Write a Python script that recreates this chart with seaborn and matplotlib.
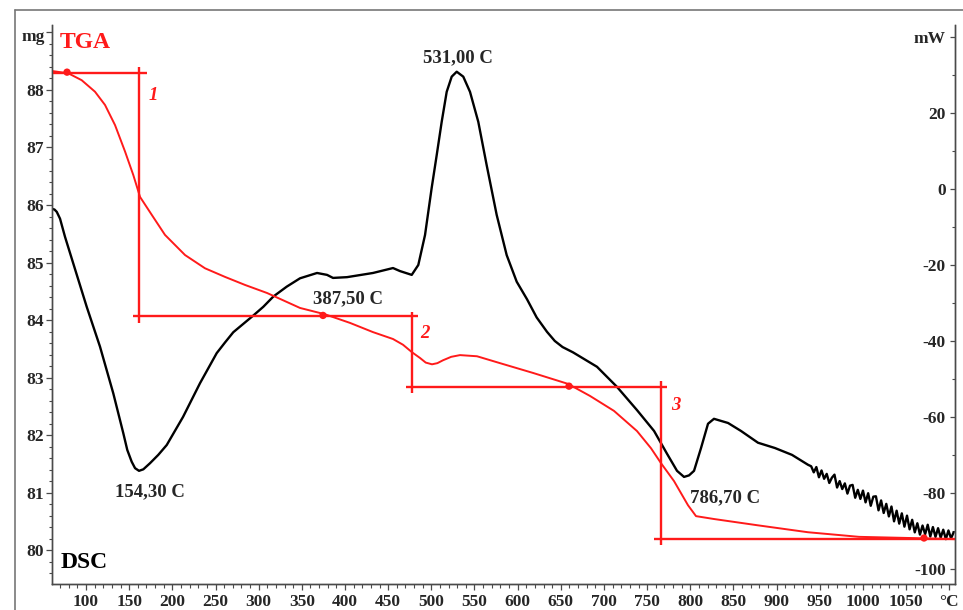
import matplotlib
matplotlib.use("Agg")
import matplotlib.pyplot as plt
from matplotlib.ticker import FixedLocator, MultipleLocator
from matplotlib.lines import Line2D
import seaborn as sns

# TGA curve: mass (mg) vs temperature (°C)
tga_temp = [60.6, 79.5, 95.0, 110.4, 122.0, 133.6, 145.2, 154.8, 162.6, 176.1,
            191.5, 214.7, 237.8, 261.0, 284.2, 309.7, 347.9, 376.8, 405.8, 432.4,
            455.6, 467.2, 477.6, 486.9, 493.5, 500.8, 507.0, 513.5, 523.0, 533.2,
            552.9, 579.6, 617.8, 658.3, 683.8, 711.6, 738.2, 754.5, 766.1, 781.1,
            797.3, 806.6, 827.4, 878.4, 936.3, 995.4, 1053.3, 1106.6]
tga_mass = [88.33, 88.29, 88.17, 87.97, 87.74, 87.39, 86.93, 86.52, 86.14, 85.83,
            85.48, 85.13, 84.90, 84.75, 84.61, 84.47, 84.21, 84.10, 83.95, 83.79,
            83.67, 83.57, 83.44, 83.34, 83.26, 83.23, 83.25, 83.30, 83.36, 83.39,
            83.37, 83.25, 83.08, 82.89, 82.68, 82.42, 82.07, 81.77, 81.51, 81.20,
            80.78, 80.59, 80.54, 80.43, 80.31, 80.23, 80.21, 80.19]

# DSC curve: heat flow (mW) vs temperature (°C)
dsc_temp = [60.6, 63.5, 66.1, 69.9, 75.7, 85.3, 100.8, 116.2, 131.6, 143.2,
            147.8, 152.9, 156.8, 161.4, 166.4, 174.1, 183.7, 193.5, 212.4, 222.4,
            232.1, 241.7, 251.4, 261.0, 270.6, 282.2, 293.8, 305.4, 317.0, 332.5,
            347.9, 367.6, 379.2, 386.1, 402.3, 432.4, 455.6, 463.7, 477.3, 484.9,
            492.7, 500.4, 506.2, 512.0, 517.8, 523.6, 529.4, 537.0, 544.8, 554.4,
            564.1, 575.7, 587.3, 598.9, 610.8, 622.0, 634.0, 643.0, 652.0, 664.1,
            691.9, 715.1, 738.2, 758.0, 773.0, 784.6, 792.7, 798.5, 804.3, 812.4,
            820.5, 827.4, 843.7, 858.7, 878.4, 898.1, 917.8, 936.3,
            940, 943, 946, 949, 952, 955, 958, 961, 964, 967,
            970, 973, 976, 979, 982, 985, 988, 991, 994, 997,
            1000, 1003, 1006, 1009, 1012, 1015, 1018, 1021, 1024, 1027,
            1030, 1033, 1036, 1039, 1042, 1045, 1048, 1051, 1054, 1057,
            1060, 1063, 1066, 1069, 1072, 1075, 1078, 1081, 1084, 1087,
            1090, 1093, 1096, 1099, 1102, 1105]
dsc_flow = [-5.2, -5.4, -6.0, -7.8, -12.6, -19.6, -31.0, -41.5, -53.8, -64.3,
            -68.7, -71.8, -73.5, -74.2, -73.8, -72.2, -70.0, -67.4, -60.0, -55.5,
            -51.1, -47.2, -43.2, -40.4, -37.7, -35.5, -33.3, -31.0, -28.3, -25.7,
            -23.5, -22.1, -22.6, -23.4, -23.2, -22.1, -20.8, -21.6, -22.6, -20.0,
            -12.1, 0.3, 8.9, 17.7, 25.6, 29.6, 30.9, 29.6, 25.6, 17.7,
            6.3, -6.8, -17.4, -24.4, -29.0, -33.8, -37.6, -40.0, -41.6, -43.0,
            -46.8, -52.1, -58.2, -63.7, -69.7, -74.2, -75.8, -75.4, -74.2, -68.2,
            -61.8, -60.5, -61.6, -63.7, -66.8, -68.2, -70.0, -72.6,
            -73.0, -74.6, -73.2, -75.9, -74.1, -76.3, -75.0, -77.4, -76.0, -75.2,
            -78.6, -76.9, -79.0, -77.5, -80.2, -78.1, -77.9, -81.3, -79.2, -81.6,
            -79.4, -82.5, -80.1, -83.4, -81.0, -80.9, -84.6, -82.0, -85.3, -82.9,
            -86.2, -83.6, -87.5, -84.7, -88.1, -85.4, -88.9, -86.0, -89.6, -87.1,
            -90.4, -88.0, -91.0, -88.6, -90.9, -88.4, -91.5, -89.0, -91.6, -89.3,
            -91.8, -89.7, -92.2, -89.9, -92.0, -90.4]

# step evaluation of the TGA curve
step_names = ["1", "2", "3"]
hline_mass = [88.30, 84.07, 82.83, 80.19]
hline_from = [60.6, 154.4, 470.7, 758.0]
hline_to = [170.7, 484.6, 773.0, 1106.6]
vline_temp = [161.4, 477.6, 766.1]
vline_top = [88.40, 84.14, 82.94]
vline_bottom = [83.95, 82.73, 80.09]
dot_temp = [78.0, 374.5, 659.5, 1070.7]
dot_mass = [88.31, 84.08, 82.85, 80.21]

# peak temperatures
peak_labels = ["154,30 C", "387,50 C", "531,00 C", "786,70 C"]

# axis ticks
x_ticks = list(range(100, 1101, 50))
x_labels = [str(t) for t in range(100, 1051, 50)] + ["°C"]
mg_ticks = list(range(80, 90))
mg_labels = [str(t) for t in range(80, 89)] + [""]
mw_ticks = list(range(-100, 41, 20))
mw_labels = [str(t) for t in range(-100, 21, 20)] + ["mW"]

sns.set_theme(style="white")
plt.rcParams["font.family"] = ["Liberation Serif", "DejaVu Serif"]
plt.rcParams["font.weight"] = "bold"

RED = "#ff1a1a"
AX = "#4a4a4a"

fig = plt.figure(figsize=(9.63, 6.1), dpi=100)
ax = fig.add_axes([52 / 963, 26 / 610, 903 / 963, 559 / 610])
ax2 = ax.twinx()

# DSC (black, right axis)
sns.lineplot(x=dsc_temp, y=dsc_flow, ax=ax2, color="black", linewidth=1.7,
             sort=False, estimator=None)

# TGA (red, left axis) drawn on top
ax.set_zorder(ax2.get_zorder() + 1)
ax.patch.set_visible(False)
sns.lineplot(x=tga_temp, y=tga_mass, ax=ax, color=RED, linewidth=1.4,
             sort=False, estimator=None)
ax.hlines(hline_mass, hline_from, hline_to, color=RED, linewidth=1.7)
ax.vlines(vline_temp, vline_bottom, vline_top, color=RED, linewidth=1.7)
sns.scatterplot(x=dot_temp, y=dot_mass, ax=ax, color=RED, s=28,
                edgecolor="none", zorder=5)

ax.text(177.6, 87.91, step_names[0], color=RED, fontsize=13.5,
        style="italic", ha="center", va="center")
ax.text(492.7, 83.76, step_names[1], color=RED, fontsize=13.5,
        style="italic", ha="center", va="center")
ax.text(783.0, 82.52, step_names[2], color=RED, fontsize=13.5,
        style="italic", ha="center", va="center")

ax.text(69.0, 88.83, "TGA", color=RED, fontsize=17, ha="left", va="center")
ax.text(71.0, 79.79, "DSC", color="black", fontsize=17, ha="left", va="center")

ax2.text(174.0, -79.7, peak_labels[0], fontsize=13.5, ha="center", va="center")
ax.text(403.5, 84.37, peak_labels[1], fontsize=13.5, ha="center", va="center")
ax2.text(531.0, 34.5, peak_labels[2], fontsize=13.5, ha="center", va="center")
ax2.text(840.0, -81.3, peak_labels[3], fontsize=13.5, ha="center", va="center")

# unit label of the mass axis sits at the top tick, a bit lower
ax.text(-0.0075, 88.93, "mg", transform=ax.get_yaxis_transform(),
        fontsize=12.5, ha="right", va="center")

# axes limits and ticks
ax.set_xlim(60.6, 1106.6)
ax.set_ylim(79.41, 89.13)
ax2.set_ylim(-104.0, 43.2)

ax.xaxis.set_major_locator(FixedLocator(x_ticks))
ax.set_xticklabels(x_labels)
ax.xaxis.set_minor_locator(MultipleLocator(10))
ax.yaxis.set_major_locator(FixedLocator(mg_ticks))
ax.set_yticklabels(mg_labels)
ax.yaxis.set_minor_locator(MultipleLocator(0.2))
ax2.yaxis.set_major_locator(FixedLocator(mw_ticks))
ax2.set_yticklabels(mw_labels)
ax2.yaxis.set_minor_locator(MultipleLocator(10))

ax.tick_params(axis="x", which="major", direction="out", length=4, width=0.9,
               color=AX, labelsize=12.5, pad=3)
ax.tick_params(axis="x", which="minor", direction="out", length=3, width=0.8,
               color=AX)
ax.tick_params(axis="y", which="major", direction="out", length=4, width=0.9,
               color=AX, labelsize=12.5, pad=1.5, left=True)
ax.tick_params(axis="y", which="minor", direction="out", length=2.2, width=0.8,
               color=AX, left=True)
ax.tick_params(bottom=True, which="both")
ax2.tick_params(axis="y", which="major", direction="in", length=3.5, width=0.9,
                color=AX, labelsize=12.5, pad=-6.5, right=True)
ax2.tick_params(axis="y", which="minor", direction="in", length=2.2, width=0.8,
                color=AX, right=True)
for lab in ax2.get_yticklabels():
    lab.set_horizontalalignment("right")

for a in (ax, ax2):
    a.set_xlabel("")
    a.set_ylabel("")
    a.grid(False)
    a.spines["top"].set_visible(False)
    for s in ("left", "right", "bottom"):
        a.spines[s].set_color(AX)
        a.spines[s].set_linewidth(1.0)

# outer frame of the instrument printout
fig.add_artist(Line2D([15 / 963, 15 / 963], [0, 1 - 10 / 610],
                      transform=fig.transFigure, color="#777777", linewidth=1.2))
fig.add_artist(Line2D([15 / 963, 1], [1 - 10 / 610, 1 - 10 / 610],
                      transform=fig.transFigure, color="#777777", linewidth=1.2))

fig.savefig("out.png", dpi=100)
